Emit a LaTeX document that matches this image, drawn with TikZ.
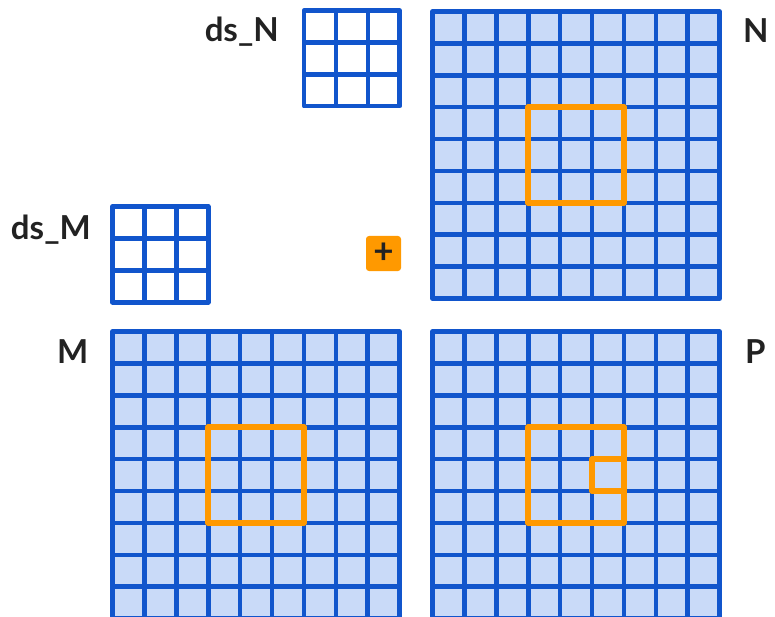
\documentclass[tikz,border=0pt]{standalone}
\usepackage{fontspec}
\setmainfont{Lato}
\definecolor{gblue}{HTML}{1155CC}
\definecolor{gfill}{HTML}{C9DAF8}
\definecolor{gorange}{HTML}{FF9900}
\definecolor{ink}{HTML}{222222}
\tikzset{
  gridline/.style={draw=gblue, line width=4.6pt},
  gridborder/.style={draw=gblue, line width=4.6pt, line join=round},
  lbl/.style={font=\bfseries\fontsize{33}{33}\selectfont, text=ink, inner sep=0pt},
  hilite/.style={draw=gorange, line width=6pt, line join=round},
  plusbox/.style={fill=gorange, rounded corners=3pt, minimum size=35pt, inner sep=0pt,
    text=ink, font=\bfseries\fontsize{35}{35}\selectfont},
}
\newcommand\cs{31.9}
% #1 x, #2 y, #3 n, #4 fill colour
\newcommand\mygrid[4]{%
  \fill[#4] (#1,#2) rectangle ++(#3*\cs,#3*\cs);
  \foreach \i in {1,...,\numexpr#3-1\relax} {
    \draw[gridline] (#1+\i*\cs,#2) -- ++(0,#3*\cs);
    \draw[gridline] (#1,#2+\i*\cs) -- ++(#3*\cs,0);
  }
  \draw[gridborder] (#1,#2) rectangle ++(#3*\cs,#3*\cs);
}
\begin{document}
\begin{tikzpicture}[x=1pt,y=-1pt]
\clip (0,0) rectangle (775,617);
\fill[white] (0,0) rectangle (775,617);
% big grids
\mygrid{432.5}{11.5}{9}{gfill}
\mygrid{112.5}{331.5}{9}{gfill}
\mygrid{432.5}{331.5}{9}{gfill}
% small grids
\mygrid{304}{10.5}{3}{white}
\mygrid{112.5}{206.5}{3}{white}
% highlights
\coordinate (nh) at (432.5+3*\cs,11.5+3*\cs);
\coordinate (mh) at (112.5+3*\cs,331.5+3*\cs);
\coordinate (ph) at (432.5+3*\cs,331.5+3*\cs);
\coordinate (pc) at (432.5+5*\cs,331.5+4*\cs);
\draw[hilite] (nh) rectangle ++(3*\cs,3*\cs);
\draw[hilite] (mh) rectangle ++(3*\cs,3*\cs);
\draw[hilite] (ph) rectangle ++(3*\cs,3*\cs);
\draw[hilite] (pc) rectangle ++(\cs,\cs);
% plus
\node[plusbox] (plus) at (383.5,253.5) {+};
% labels
\node[lbl, anchor=base east] (dsN) at (279,42) {ds\_N};
\node[lbl, anchor=base east] (dsM) at (91,240) {ds\_M};
\node[lbl, anchor=base west] (N) at (743,43) {N};
\node[lbl, anchor=base west] (M) at (57,363) {M};
\node[lbl, anchor=base west] (P) at (745,363) {P};
\end{tikzpicture}
\end{document}
